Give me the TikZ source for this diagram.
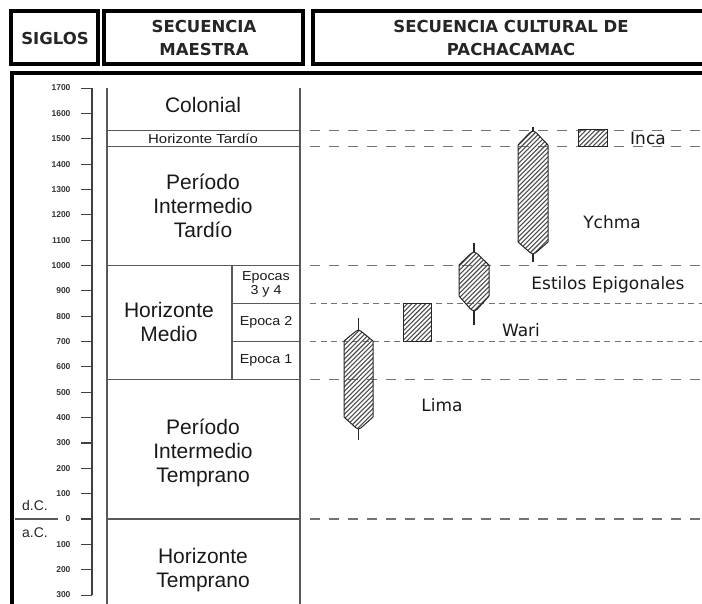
\documentclass[tikz,border=0pt]{standalone}
\usepackage{fontspec}
\setmainfont{Liberation Sans}
\newfontfamily\verd{DejaVu Sans}
% hatch the saved path #1 whose box starts at x=#2 and spans y from #3 to #4
\newcommand\hatchit[4]{%
  \begin{scope}
    \clip[use path=#1];
    \foreach \i in {0,...,60} \draw[hatchline] ({#2+\i*4.6},{#3}) -- ({#2+\i*4.6+#3-#4},{#4});
  \end{scope}
  \draw[outline, use path=#1];
}
% culture range: cx, half width, spike top, point top, shoulder top, shoulder bottom, point bottom, spike bottom
\newcommand\culshape[8]{%
  \path[save path=\culp] (#1,#4) -- ({#1+0.2*#2},{#4+1.5}) -- ({#1+#2},#5) -- ({#1+#2},#6)
    -- ({#1+0.2*#2},{#7-1.5}) -- (#1,#7) -- ({#1-0.2*#2},{#7-1.5}) -- ({#1-#2},#6)
    -- ({#1-#2},#5) -- ({#1-0.2*#2},{#4+1.5}) -- cycle;
  \hatchit{\culp}{(#1-#2)}{#3}{#8}
  \draw[spike] (#1,#3) -- (#1,#4);
  \draw[spike] (#1,#7) -- (#1,#8);
}
\begin{document}
\begin{tikzpicture}[x=1pt,y=-1pt,
  declare function={yy(\t)=519-0.2535*\t;},
  hdrbox/.style={draw=black, line width=3.2pt},
  hdrtext/.style={font=\verd\bfseries\fontsize{16.5}{23}\selectfont, align=center, text=black!85},
  colline/.style={draw=black!65, line width=1.1pt},
  axisline/.style={draw=black!75, line width=1.1pt},
  ticklbl/.style={font=\bfseries\fontsize{8.5}{9}\selectfont, anchor=east, text=black!80},
  perlbl/.style={font=\fontsize{21}{24}\selectfont, align=center, text=black!90},
  smalllbl/.style={font=\fontsize{13}{14}\selectfont, align=center, text=black!90},
  longdash/.style={draw=black!55, line width=1.4pt, dash pattern=on 10pt off 9pt},
  shortdash/.style={draw=black!55, line width=1.4pt, dash pattern=on 6pt off 4.5pt},
  hatchline/.style={draw=black!70, line width=1.1pt},
  outline/.style={draw=black!85, line width=1pt},
  spike/.style={draw=black!85, line width=1.1pt},
  culture/.style={font=\verd\fontsize{17}{20}\selectfont, text=black!90}]
\useasboundingbox (0,0) rectangle (702,603);
\clip (0,0) rectangle (702,603);

% header
\draw[hdrbox] (11,11) rectangle (98,64);
\draw[hdrbox] (104,11) rectangle (303,64);
\draw[hdrbox] (313,11) rectangle (720,64);
\node[hdrtext] (hsig) at (55,38) {SIGLOS};
\node[hdrtext] (hmae) at (204,38) {SECUENCIA\\MAESTRA};
\node[hdrtext] (hpac) at (511,38) {SECUENCIA CULTURAL DE\\PACHACAMAC};

% main frame
\draw[line width=3.2pt] (12,620) -- (12,73) -- (720,73);

% axis
\draw[axisline] (92,{yy(1700)}) -- (92,{yy(-300)});
\foreach \t in {1700,1600,...,100} {
  \draw[axisline] (81,{yy(\t)}) -- (92,{yy(\t)});
  \node[ticklbl] at (74,{yy(\t)}) {\t};
}
\draw[axisline] (81,{yy(0)}) -- (92,{yy(0)});
\node[ticklbl] (t0) at (74,{yy(0)}) {0};
\foreach \t in {100,200,300} {
  \draw[axisline] (81,{yy(-\t)}) -- (92,{yy(-\t)});
  \node[ticklbl] at (74,{yy(-\t)}) {\t};
}
\draw[colline] (15,519) -- (58,519);
\node[font=\fontsize{14}{14}\selectfont, text=black!85] (dc) at (35,505) {d.C.};
\node[font=\fontsize{14}{14}\selectfont, text=black!85] (ac) at (35,533) {a.C.};

% secuencia maestra
\draw[colline] (107,88) -- (107,620);
\draw[colline] (300,88) -- (300,620);
\foreach \t in {1532,1470,1000,550,0} \draw[colline] (107,{yy(\t)}) -- (300,{yy(\t)});
\draw[colline] (232,{yy(1000)}) -- (232,{yy(550)});
\draw[colline] (232,{yy(850)}) -- (300,{yy(850)});
\draw[colline] (232,{yy(700)}) -- (300,{yy(700)});

\node[perlbl] (col) at (203,105) {Colonial};
\node[smalllbl, xscale=1.15] (ht) at (203,138.5) {Horizonte Tardío};
\node[perlbl] (pit) at (203,206) {Período\\Intermedio\\Tardío};
\node[perlbl] (hm) at (169,322) {Horizonte\\Medio};
\node[smalllbl, xscale=1.1] (e34) at (266,284.5) {Epocas\\3 y 4};
\node[smalllbl, xscale=1.1] (e2) at (266,322.5) {Epoca 2};
\node[smalllbl, xscale=1.1] (e1) at (266,360.5) {Epoca 1};
\node[perlbl] (pie) at (203,453) {Período\\Intermedio\\Temprano};
\node[perlbl] (hte) at (203,570) {Horizonte\\Temprano};

% dashed lines
\draw[longdash] (310,{yy(1532)}) -- (702,{yy(1532)});
\draw[longdash] (310,{yy(1470)}) -- (702,{yy(1470)});
\draw[longdash] (310,{yy(1000)}) -- (702,{yy(1000)});
\draw[shortdash] (310,{yy(850)}) -- (702,{yy(850)});
\draw[shortdash] (310,{yy(700)}) -- (702,{yy(700)});
\draw[longdash] (310,{yy(550)}) -- (702,{yy(550)});
\draw[longdash] (310,{yy(0)}) -- (702,{yy(0)});

% cultures
\culshape{358.5}{14.5}{318}{330}{341}{417}{429}{440}
\culshape{474}{15}{243}{252}{265}{296}{311}{325}
\culshape{533}{15}{127}{131}{145}{242}{254}{262}
\path[save path=\warip] (403,303.5) rectangle (431,341.5);
\hatchit{\warip}{403}{303.5}{341.5}
\path[save path=\incap] (578,129) rectangle (607,146);
\hatchit{\incap}{578}{129}{146}

\node[culture] (inca) at (648,138) {Inca};
\node[culture] (ychma) at (612,222) {Ychma};
\node[culture] (epig) at (608,285) {Estilos Epigonales};
\node[culture] (wari) at (521,330) {Wari};
\node[culture] (lima) at (442,405) {Lima};
\end{tikzpicture}
\end{document}
